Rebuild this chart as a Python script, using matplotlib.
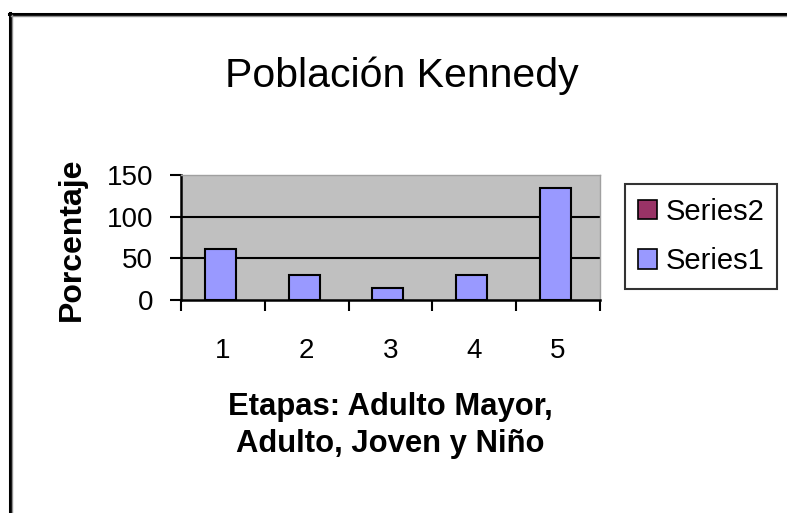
import matplotlib
matplotlib.use("Agg")
import matplotlib.pyplot as plt
from matplotlib.patches import Patch
from matplotlib.lines import Line2D
import numpy as np

plt.rcParams['font.family'] = ['Liberation Sans', 'DejaVu Sans']

categories = ["1", "2", "3", "4", "5"]
series1 = [61, 30, 15, 30, 134]
series2 = [0, 0, 0, 0, 0]
yticks = [0, 50, 100, 150]
title = "Población Kennedy"
xlabel = "Etapas: Adulto Mayor,\nAdulto, Joven y Niño"
ylabel = "Porcentaje"

W, H = 787, 513
fig = plt.figure(figsize=(W / 100, H / 100), dpi=100)
fig.patch.set_facecolor('white')

def fx(px):
    return px / W

def fy(py):
    return 1 - py / H

ax = fig.add_axes([fx(181), fy(300), fx(600) - fx(181), fy(175) - fy(300)])
ax.set_facecolor('#C0C0C0')

x = np.arange(1, len(categories) + 1)
bw = 0.37
ax.bar(x - 0.03, series1, width=bw, color='#9999FF', edgecolor='black', linewidth=1.5, zorder=3)
ax.bar(x - 0.03 + bw, series2, width=bw, color='#993366', edgecolor='none', linewidth=0, zorder=3)

ax.set_xlim(0.5, 5.5)
ax.set_ylim(0, 150)
ax.set_yticks(yticks)
ax.set_xticks(x)
ax.set_xticklabels(categories)
ax.set_xticks(np.arange(0.5, 6.0, 1.0), minor=True)
ax.tick_params(axis='x', which='major', length=0, pad=27, labelsize=20)
ax.tick_params(axis='x', which='minor', length=8, width=1.5, direction='out', color='black')
ax.tick_params(axis='y', length=8, width=1.5, direction='out', pad=12, labelsize=20)

for yv in yticks[1:-1]:
    ax.axhline(yv, color='black', linewidth=1.5, zorder=2)

ax.spines['left'].set_linewidth(1.8)
ax.spines['bottom'].set_linewidth(1.8)
ax.spines['top'].set_color('#A0A0A0')
ax.spines['right'].set_color('#A0A0A0')
ax.spines['top'].set_linewidth(1.0)
ax.spines['right'].set_linewidth(1.0)

fig.text(fx(402), fy(87), title, ha='center', va='baseline', fontsize=29.5)
fig.text(fx(390), fy(392), xlabel, ha='center', va='top', fontsize=22.3,
         fontweight='bold', linespacing=1.3)
fig.text(fx(72), fy(239), ylabel, ha='center', va='center', rotation=90,
         fontsize=23, fontweight='bold')

handles = [Patch(facecolor='#993366', edgecolor='black', linewidth=1.2, label='Series2'),
           Patch(facecolor='#9999FF', edgecolor='black', linewidth=1.2, label='Series1')]
leg = fig.legend(handles=handles, loc='center',
                 bbox_to_anchor=(fx((625 + 777) / 2), fy((183 + 290) / 2)),
                 fontsize=21, frameon=True, fancybox=False, edgecolor='black',
                 handlelength=0.65, handleheight=0.65, handletextpad=0.3,
                 labelspacing=0.75, borderpad=0.45, borderaxespad=0)
leg.get_frame().set_linewidth(1.5)

# outer chart frame (left and top edges visible)
fig.add_artist(Line2D([fx(9.5), fx(9.5)], [fy(13), 0], color='black', linewidth=2.2,
                      transform=fig.transFigure))
fig.add_artist(Line2D([fx(9), 1], [fy(13.5), fy(13.5)], color='black', linewidth=2.2,
                      transform=fig.transFigure))
fig.add_artist(Line2D([fx(11.5), fx(11.5)], [fy(15), 0], color='#909090', linewidth=1,
                      transform=fig.transFigure))
fig.add_artist(Line2D([fx(11), 1], [fy(15.5), fy(15.5)], color='#909090', linewidth=1,
                      transform=fig.transFigure))

fig.savefig('out.png', dpi=100)
